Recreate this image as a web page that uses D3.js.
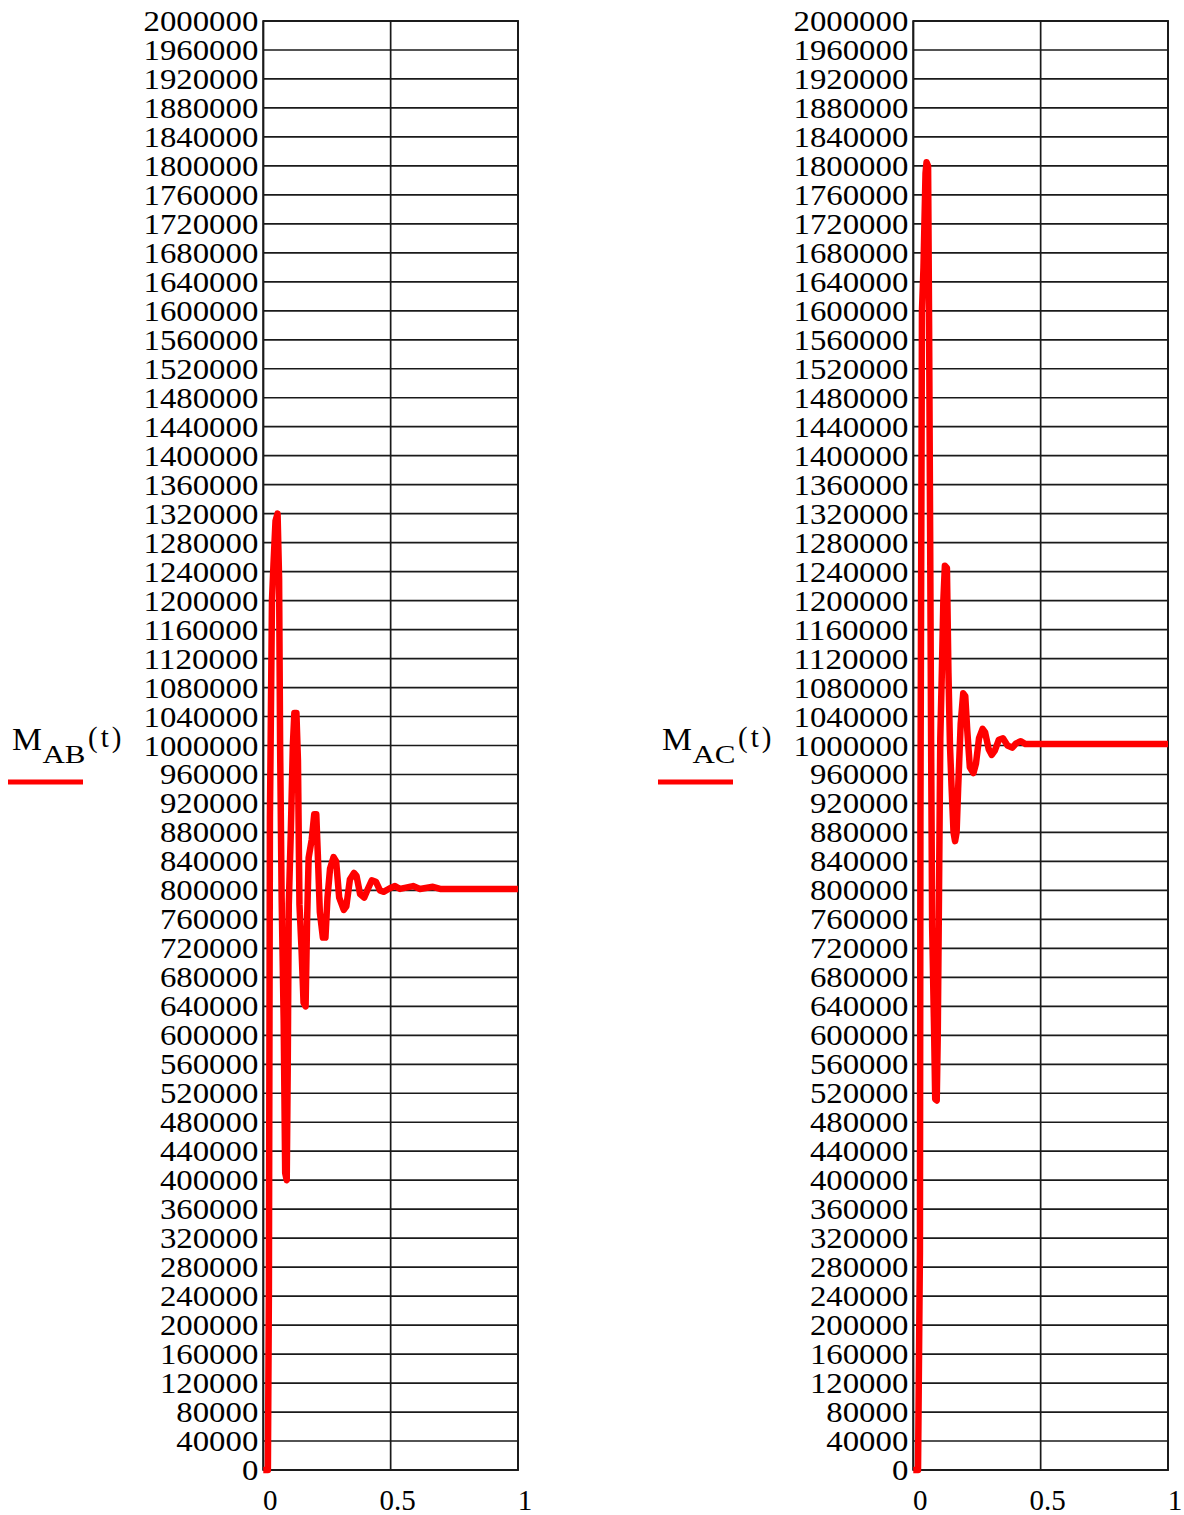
<!DOCTYPE html>
<html>
<head>
<meta charset="utf-8">
<script src="https://cdn.jsdelivr.net/npm/d3@7"></script>
<style>
  body { margin: 0; background: #fff; }
  text { font-family: "Liberation Serif", "Times New Roman", serif; fill: #000; }
</style>
</head>
<body>
<script>
// M_AB(t)
var tAB = [0, 0.018, 0.022, 0.026, 0.034, 0.040, 0.048, 0.056, 0.062, 0.066, 0.072, 0.080,
    0.086, 0.092, 0.096, 0.100, 0.108, 0.116, 0.122, 0.130, 0.136, 0.142, 0.150, 0.158,
    0.166, 0.172, 0.178, 0.190, 0.200, 0.208, 0.214, 0.222, 0.234, 0.244, 0.252, 0.262,
    0.276, 0.286, 0.298, 0.316, 0.326, 0.340, 0.356, 0.366, 0.380, 0.396, 0.408, 0.426,
    0.442, 0.458, 0.472, 0.497, 0.517, 0.537, 0.588, 0.615, 0.666, 0.694, 1.0];
var mAB = [0, 0, 250000, 900000, 1200000, 1250000, 1310000, 1320000, 1230000, 1000000, 790000, 620000,
    410000, 400000, 560000, 780000, 880000, 1000000, 1045000, 1045000, 980000, 780000, 720000, 645000,
    640000, 760000, 845000, 870000, 905000, 905000, 850000, 770000, 735000, 735000, 790000, 830000,
    846000, 840000, 790000, 773000, 778000, 815000, 824000, 820000, 795000, 790000, 800000, 814000,
    812000, 800000, 798000, 803000, 806000, 802000, 806000, 802000, 805000, 802000, 802000];

// M_AC(t)
var tAC = [0, 0.0185, 0.026, 0.028, 0.034, 0.040, 0.048, 0.052, 0.058, 0.062, 0.066, 0.070,
    0.074, 0.082, 0.086, 0.092, 0.096, 0.100, 0.106, 0.112, 0.118, 0.124, 0.132, 0.138,
    0.144, 0.150, 0.158, 0.164, 0.170, 0.176, 0.186, 0.196, 0.204, 0.212, 0.222, 0.236,
    0.246, 0.258, 0.272, 0.282, 0.296, 0.308, 0.320, 0.336, 0.352, 0.370, 0.388, 0.404,
    0.422, 0.440, 1.0];
var mAC = [0, 0, 300000, 900000, 1600000, 1660000, 1790000, 1805000, 1800000, 1580000, 1300000, 1000000,
    750000, 600000, 512000, 510000, 600000, 760000, 1010000, 1100000, 1200000, 1248000, 1245000, 1100000,
    1000000, 945000, 880000, 868000, 880000, 940000, 1030000, 1072000, 1068000, 1020000, 970000, 962000,
    975000, 1010000, 1023000, 1018000, 995000, 987000, 993000, 1008000, 1010000, 1000000, 997000, 1003000,
    1006000, 1002000, 1002000];

var yTicks = d3.range(0, 2000001, 40000);
var xTicks = [0, 0.5, 1];
var xTickLabels = ["0", "0.5", "1"];

var width = 1184;
var height = 1515;
var plotTop = 21, plotBottom = 1470;

var svg = d3.select("body")
    .append("svg")
    .attr("width", width)
    .attr("height", height);

var charts = [
    {x0: 263.3, x1: 518, lx: 12, sub: "AB", t: tAB, m: mAB},
    {x0: 913.3, x1: 1168, lx: 662, sub: "AC", t: tAC, m: mAC}
];

charts.forEach(function(c) {
    var x = d3.scaleLinear().domain([0, 1]).range([c.x0, c.x1]);
    var y = d3.scaleLinear().domain([0, 2000000]).range([plotBottom, plotTop]);
    var g = svg.append("g");

    // horizontal grid
    g.selectAll(".hg")
        .data(yTicks)
        .enter()
        .append("line")
        .attr("x1", c.x0).attr("x2", c.x1)
        .attr("y1", function(d) { return y(d); })
        .attr("y2", function(d) { return y(d); })
        .attr("stroke", "#1a1a1a")
        .attr("stroke-width", 1.7);

    // vertical grid
    g.selectAll(".vg")
        .data(xTicks)
        .enter()
        .append("line")
        .attr("x1", function(d) { return x(d); })
        .attr("x2", function(d) { return x(d); })
        .attr("y1", plotTop).attr("y2", plotBottom)
        .attr("stroke", "#1a1a1a")
        .attr("stroke-width", 1.7);

    g.append("rect")
        .attr("x", c.x0).attr("y", plotTop)
        .attr("width", c.x1 - c.x0).attr("height", plotBottom - plotTop)
        .attr("fill", "none")
        .attr("stroke", "#1a1a1a")
        .attr("stroke-width", 1.9);

    // y tick labels
    g.selectAll(".yl")
        .data(yTicks)
        .enter()
        .append("text")
        .attr("x", c.x0 - 5)
        .attr("y", function(d) { return y(d) + 10; })
        .attr("text-anchor", "end")
        .attr("font-size", 29.5)
        .attr("textLength", function(d) { return String(d).length * 16.4; })
        .attr("lengthAdjust", "spacingAndGlyphs")
        .text(function(d) { return String(d); });

    // x tick labels
    g.selectAll(".xl")
        .data(xTicks)
        .enter()
        .append("text")
        .attr("x", function(d) { return x(d) + 7; })
        .attr("y", 1510)
        .attr("text-anchor", "middle")
        .attr("font-size", 29)
        .text(function(d, i) { return xTickLabels[i]; });

    // curve
    var pts = c.t.map(function(d, i) { return [d, c.m[i]]; });
    var line = d3.line()
        .x(function(d) { return x(d[0]); })
        .y(function(d) { return y(d[1]); });
    g.append("path")
        .attr("d", line(pts))
        .attr("fill", "none")
        .attr("stroke", "#ff0000")
        .attr("stroke-width", 6.5)
        .attr("stroke-linejoin", "round");

    // legend
    g.append("text")
        .attr("x", c.lx).attr("y", 750)
        .attr("font-size", 32)
        .attr("textLength", 30)
        .attr("lengthAdjust", "spacingAndGlyphs")
        .text("M");
    g.append("text")
        .attr("x", c.lx + 30.5).attr("y", 763)
        .attr("font-size", 26)
        .attr("textLength", 43)
        .attr("lengthAdjust", "spacingAndGlyphs")
        .text(c.sub);
    g.append("text")
        .attr("x", c.lx + 76).attr("y", 747)
        .attr("font-size", 29)
        .attr("letter-spacing", 3)
        .text("(t)");
    g.append("line")
        .attr("x1", c.lx - 4).attr("x2", c.lx + 71)
        .attr("y1", 782).attr("y2", 782)
        .attr("stroke", "#ff0000")
        .attr("stroke-width", 5);
});
</script>
</body>
</html>
